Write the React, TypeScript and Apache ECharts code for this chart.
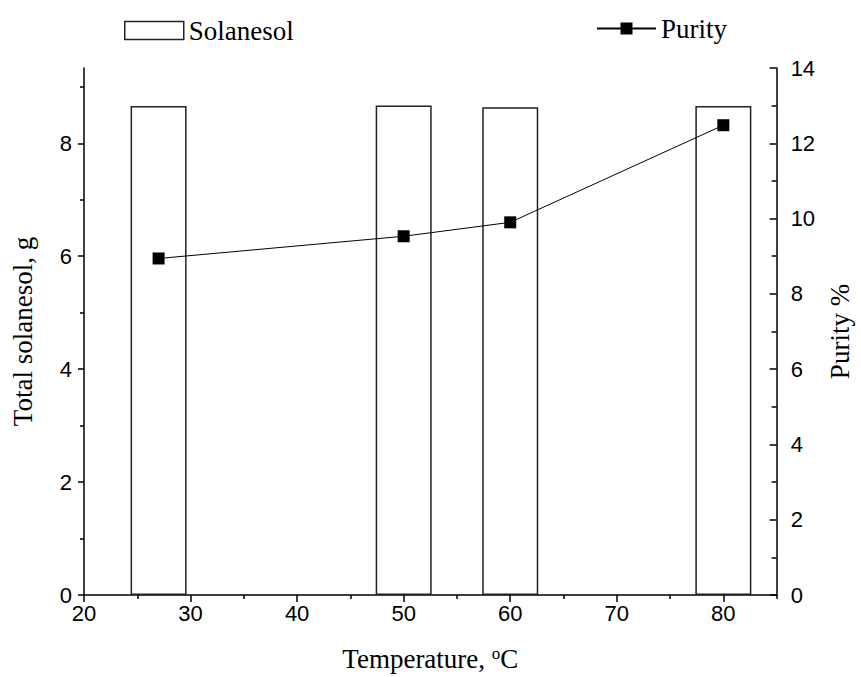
import React, { useEffect, useRef } from "react";
import * as echarts from "echarts";

const temperatures = [27, 50, 60, 80];
const solanesolTotals = [8.66, 8.67, 8.64, 8.66];
const purityValues = [8.94, 9.53, 9.9, 12.48];

const xMajorTicks = [20, 30, 40, 50, 60, 70, 80];
const xMinorTicks = [25, 35, 45, 55, 65, 75, 85];
const leftMajorTicks = [0, 2, 4, 6, 8];
const leftMinorTicks = [1, 3, 5, 7, 9];

const SERIF = "'Liberation Serif', 'Times New Roman', serif";
const SANS = "'Liberation Sans', Arial, sans-serif";

export default function App() {
  const ref = useRef<HTMLDivElement>(null);
  useEffect(() => {
    if (!ref.current) return;
    const chart = echarts.init(ref.current, null, { renderer: "svg" });
    const axisLine = { show: true, lineStyle: { color: "#000", width: 1.5 } };
    chart.setOption({
      animation: false,
      backgroundColor: "#fff",
      grid: { left: 84, right: 75, top: 68, bottom: 81, containLabel: false },
      legend: [
        {
          data: ["Solanesol"],
          left: 124,
          top: 17,
          padding: 0,
          itemWidth: 59,
          itemHeight: 18,
          icon: "rect",
          itemStyle: { color: "#fff", borderColor: "#222", borderWidth: 1.5 },
          textStyle: { fontFamily: SERIF, fontSize: 27, color: "#000" },
        },
        {
          data: ["Purity"],
          left: 596,
          top: 15,
          padding: 0,
          itemWidth: 59,
          itemHeight: 15,
          textStyle: { fontFamily: SERIF, fontSize: 27, color: "#000" },
        },
      ],
      xAxis: [
        {
          type: "value",
          min: 20,
          max: 85,
          interval: 10,
          position: "bottom",
          name: "Temperature, {sup|o}C",
          nameLocation: "middle",
          nameGap: 50,
          nameTextStyle: {
            fontFamily: SERIF,
            fontSize: 27,
            color: "#000",
            rich: { sup: { fontFamily: SERIF, fontSize: 17, verticalAlign: "top", color: "#000" } },
          },
          axisLine,
          axisTick: {
            show: true,
            inside: false,
            length: 7,
            customValues: xMajorTicks,
            lineStyle: { color: "#000", width: 1.5 },
          },
          axisLabel: {
            fontFamily: SANS,
            fontSize: 22,
            color: "#000",
            margin: 7,
            customValues: xMajorTicks,
          },
          splitLine: { show: false },
        },
        {
          type: "value",
          min: 20,
          max: 85,
          interval: 5,
          position: "bottom",
          axisLine: { show: false },
          axisTick: {
            show: true,
            inside: false,
            length: 4,
            customValues: xMinorTicks,
            lineStyle: { color: "#000", width: 1.5 },
          },
          axisLabel: { show: false },
          splitLine: { show: false },
        },
      ],
      yAxis: [
        {
          type: "value",
          min: 0,
          max: 9.333,
          interval: 2,
          position: "left",
          name: "Total solanesol, g",
          nameLocation: "middle",
          nameGap: 48,
          nameTextStyle: { fontFamily: SERIF, fontSize: 27, color: "#000" },
          axisLine,
          axisTick: {
            show: true,
            inside: false,
            length: 6,
            customValues: leftMajorTicks,
            lineStyle: { color: "#000", width: 1.5 },
          },
          axisLabel: {
            fontFamily: SANS,
            fontSize: 22,
            color: "#000",
            margin: 12,
            customValues: leftMajorTicks,
          },
          splitLine: { show: false },
        },
        {
          type: "value",
          min: 0,
          max: 14,
          interval: 2,
          position: "right",
          name: "Purity %",
          nameLocation: "middle",
          nameGap: 48,
          nameTextStyle: { fontFamily: SERIF, fontSize: 27, color: "#000" },
          axisLine,
          axisTick: { show: true, inside: true, length: 7, lineStyle: { color: "#000", width: 1.5 } },
          minorTick: { show: true, splitNumber: 2, length: 5, lineStyle: { color: "#000", width: 1.5 } },
          axisLabel: { fontFamily: SANS, fontSize: 22, color: "#000", margin: 14 },
          splitLine: { show: false },
        },
        {
          type: "value",
          min: 0,
          max: 9.333,
          interval: 1,
          position: "left",
          offset: 0,
          axisLine: { show: false },
          axisTick: {
            show: true,
            inside: false,
            length: 4,
            customValues: leftMinorTicks,
            lineStyle: { color: "#000", width: 1.5 },
          },
          axisLabel: { show: false },
          splitLine: { show: false },
        },
      ],
      series: [
        {
          name: "Solanesol",
          type: "bar",
          xAxisIndex: 0,
          yAxisIndex: 0,
          barWidth: 56,
          data: temperatures.map((t, i) => [t, solanesolTotals[i]]),
          itemStyle: { color: "rgba(255,255,255,0)", borderColor: "#222", borderWidth: 1.5 },
        },
        {
          name: "Purity",
          type: "line",
          xAxisIndex: 0,
          yAxisIndex: 1,
          data: temperatures.map((t, i) => [t, purityValues[i]]),
          symbol: "rect",
          symbolSize: 12,
          itemStyle: { color: "#000" },
          lineStyle: { color: "#000", width: 1 },
          z: 5,
        },
      ],
    });
    return () => chart.dispose();
  }, []);
  return <div ref={ref} style={{ width: 861, height: 677, position: "absolute", left: 0, top: 0 }} />;
}
